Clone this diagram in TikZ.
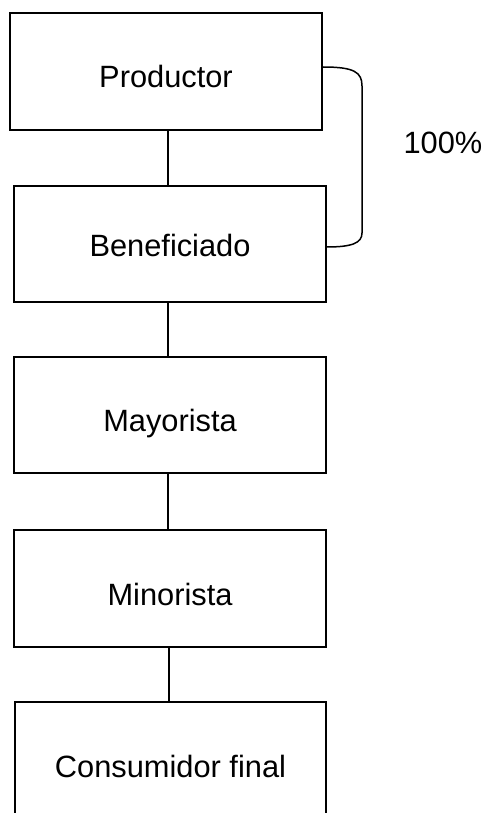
\documentclass[tikz,border=0pt]{standalone}
\usepackage{fontspec}
\setmainfont{Liberation Sans}
\begin{document}
\begin{tikzpicture}[x=1pt,y=1pt,
  stagebox/.style={draw=black,line width=1.5pt,minimum width=312pt,minimum height=116pt,
    inner sep=0pt,text height=33pt,text depth=0pt,font=\fontsize{30.8}{36}\selectfont},
  link/.style={draw=black,line width=1.5pt}]
\useasboundingbox (0,0) rectangle (485,-813);
\fill[white] (0,0) rectangle (485,-813);
\clip (0,0) rectangle (485,-813);
\node[stagebox,minimum height=117pt] (prod) at (166,-71.5) {Productor};
\node[stagebox,text height=24pt] (benef) at (170,-244) {Beneficiado};
\node[stagebox] (mayor) at (170,-415) {Mayorista};
\node[stagebox,minimum height=117pt] (minor) at (170,-588.5) {Minorista};
\node[stagebox,minimum width=311pt,minimum height=118pt] (cons) at (170.5,-761) {Consumidor final};
\node[font=\fontsize{30.8}{36}\selectfont,inner sep=0pt,text height=21.5pt,text depth=0pt] (pct) at (443,-143) {100\%};
\draw[link] (prod.south -| 168,0) -- (benef.north -| 168,0);
\draw[link] (benef.south -| 168,0) -- (mayor.north -| 168,0);
\draw[link] (mayor.south -| 168,0) -- (minor.north -| 168,0);
\draw[link] (minor.south -| 169,0) -- (cons.north -| 169,0);
\coordinate (bt) at ([yshift=4.5pt]prod.east);
\coordinate (bb) at ([yshift=-3pt]benef.east);
\draw[link] (bt) .. controls (354,-67) and (362,-72) .. (362,-86)
  -- (362,-233) .. controls (362,-243) and (352,-247) .. (bb);
\end{tikzpicture}
\end{document}
